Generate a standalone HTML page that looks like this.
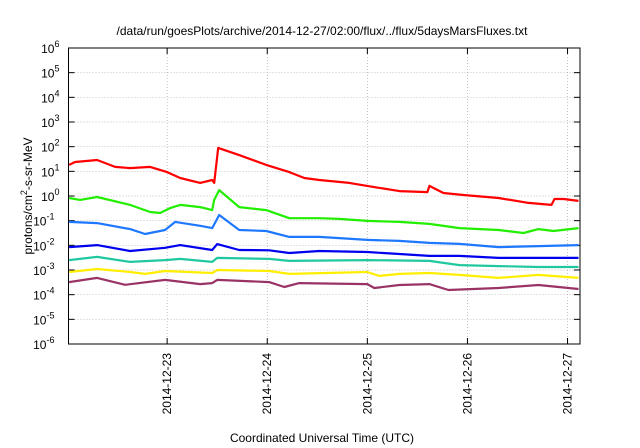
<!DOCTYPE html>
<html><head><meta charset="utf-8"><style>
body{margin:0;background:#fff;}
svg{display:block;font-family:"Liberation Sans",sans-serif;}
</style></head><body>
<svg id="chart" width="640" height="448" viewBox="0 0 640 448">
<text x="322" y="35" font-size="12" text-anchor="middle" fill="#000">/data/run/goesPlots/archive/2014-12-27/02:00/flux/../flux/5daysMarsFluxes.txt</text>
<text x="322" y="442" font-size="12" text-anchor="middle" fill="#000">Coordinated Universal Time (UTC)</text>
<text transform="translate(32,196) rotate(-90)" font-size="12" text-anchor="middle" fill="#000">protons/cm<tspan dy="-5" font-size="9">2</tspan><tspan dy="5">-s-sr-MeV</tspan></text>
<g id="grid"></g><g id="axes"></g><g id="series"></g>
</svg>
<script>
const xTickDays=[23,24,25,26,27];
const xTickLabels=["2014-12-23","2014-12-24","2014-12-25","2014-12-26","2014-12-27"];
const yTickExps=[-6,-5,-4,-3,-2,-1,0,1,2,3,4,5,6];
const seriesNames=["red","green","light-blue","dark-blue","teal","yellow","purple"];
const seriesColors=["#ff0000","#22ee00","#1e78ff","#0000ee","#20c8a0","#ffee00","#993366"];
const redT=[22.02,22.08,22.30,22.48,22.63,22.83,23.00,23.13,23.33,23.45,23.47,23.51,23.72,23.99,24.22,24.37,24.52,24.82,25.00,25.12,25.32,25.60,25.62,25.76,25.96,26.31,26.61,26.84,26.87,26.96,27.11];
const redV=[1.26,1.38,1.46,1.18,1.13,1.18,0.97,0.73,0.53,0.65,0.53,1.95,1.66,1.26,0.97,0.73,0.65,0.53,0.41,0.33,0.2,0.16,0.41,0.12,0.04,-0.08,-0.28,-0.36,-0.12,-0.12,-0.2];
const greenT=[22.02,22.13,22.30,22.63,22.83,22.93,23.03,23.13,23.33,23.45,23.47,23.52,23.72,23.99,24.22,24.52,24.72,25.00,25.32,25.62,25.92,26.31,26.56,26.71,26.86,27.11];
const greenV=[-0.08,-0.16,-0.04,-0.36,-0.65,-0.69,-0.49,-0.36,-0.45,-0.57,-0.16,0.24,-0.45,-0.57,-0.9,-0.9,-0.93,-1.01,-1.05,-1.13,-1.3,-1.38,-1.5,-1.34,-1.42,-1.3];
const lblueT=[22.02,22.30,22.63,22.78,22.98,23.08,23.33,23.45,23.52,23.72,23.99,24.22,24.52,25.00,25.32,25.62,25.92,26.31,26.71,27.11];
const lblueV=[-1.05,-1.1,-1.34,-1.54,-1.38,-1.05,-1.21,-1.3,-0.77,-1.38,-1.42,-1.66,-1.66,-1.78,-1.82,-1.9,-1.94,-2.07,-2.03,-1.99];
const dblueT=[22.02,22.30,22.63,22.98,23.13,23.45,23.50,23.72,24.02,24.22,24.52,25.00,25.32,25.62,25.92,26.31,26.71,27.11];
const dblueV=[-2.07,-1.99,-2.23,-2.1,-1.99,-2.19,-1.95,-2.19,-2.2,-2.31,-2.23,-2.27,-2.35,-2.43,-2.43,-2.51,-2.51,-2.51];
const tealT=[22.02,22.30,22.63,22.98,23.13,23.45,23.50,24.02,24.22,25.00,25.62,25.92,26.31,26.71,27.11];
const tealV=[-2.6,-2.47,-2.67,-2.6,-2.55,-2.67,-2.51,-2.55,-2.63,-2.6,-2.63,-2.8,-2.84,-2.88,-2.88];
const yellowT=[22.02,22.30,22.63,22.78,22.98,23.45,23.50,24.02,24.22,25.00,25.12,25.32,25.62,25.92,26.31,26.71,27.11];
const yellowV=[-3.08,-2.96,-3.08,-3.16,-3.04,-3.12,-3.0,-3.04,-3.16,-3.08,-3.24,-3.16,-3.12,-3.2,-3.32,-3.2,-3.32];
const purpleT=[22.02,22.30,22.58,22.98,23.33,23.45,23.50,24.02,24.17,24.32,25.00,25.07,25.32,25.62,25.81,26.31,26.71,27.11];
const purpleV=[-3.49,-3.32,-3.6,-3.4,-3.57,-3.53,-3.4,-3.49,-3.69,-3.53,-3.57,-3.73,-3.61,-3.57,-3.81,-3.73,-3.61,-3.77];

const L=68.5,R=580,T=48,B=344;
const D0=22.0145,D1=27.1245,E0=-6,E1=6;
const xs=d=>L+(d-D0)/(D1-D0)*(R-L);
const ys=e=>B-(e-E0)/(E1-E0)*(B-T);
const NS="http://www.w3.org/2000/svg";
function mk(tag,parent,attrs){const el=document.createElementNS(NS,tag);for(const k in attrs)el.setAttribute(k,attrs[k]);parent.appendChild(el);return el;}
const grid=document.getElementById('grid'),axes=document.getElementById('axes'),ser=document.getElementById('series');
yTickExps.forEach(e=>{
  const y=ys(e);
  if(e>E0&&e<E1){const g=mk('line',grid,{x1:L,x2:R,y1:y,y2:y,stroke:'#aaa','stroke-width':0.7,'stroke-dasharray':'1,2'});
  
  }
  const t1=mk('line',axes,{x1:L,x2:L+6,y1:y,y2:y,stroke:'#000'});
  
  
  const t2=mk('line',axes,{x1:R-6,x2:R,y1:y,y2:y,stroke:'#000'});
  
  
  const tx=mk('text',axes,{x:L-6,y:y+5,'font-size':12,'text-anchor':'end',fill:'#000'});
  
  
  tx.innerHTML='10<tspan dy="-6" font-size="9">'+e+'</tspan>';
  tx.setAttribute('x',L-4-(String(e).length*5));
  tx.setAttribute('text-anchor','end');
});
xTickDays.forEach((d,i)=>{
  const x=xs(d);
  const g=mk('line',grid,{x1:x,x2:x,y1:T,y2:B,stroke:'#aaa','stroke-width':0.7,'stroke-dasharray':'1,2'});
  
  
  const t1=mk('line',axes,{x1:x,x2:x,y1:B,y2:B-6,stroke:'#000'});
  
  
  const t2=mk('line',axes,{x1:x,x2:x,y1:T,y2:T+6,stroke:'#000'});
  
  
  const tx=mk('text',axes,{transform:`translate(${x+4},353) rotate(-90)`,'font-size':12,'text-anchor':'end',fill:'#000'});
  
  
  tx.textContent=xTickLabels[i];
});
const frame=mk('rect',axes,{x:L,y:T,width:R-L,height:B-T,fill:'none',stroke:'#000','stroke-width':1});


const allT=[redT,greenT,lblueT,dblueT,tealT,yellowT,purpleT];
const allV=[redV,greenV,lblueV,dblueV,tealV,yellowV,purpleV];
for(let s=allT.length-1;s>=0;s--){
  const pts=allT[s].map((d,i)=>xs(d).toFixed(1)+','+ys(allV[s][i]).toFixed(1)).join(' ');
  const p=mk('polyline',ser,{points:pts,fill:'none',stroke:seriesColors[s],'stroke-width':2.2,'stroke-linejoin':'round'});
  
  
}
</script>
</body></html>
